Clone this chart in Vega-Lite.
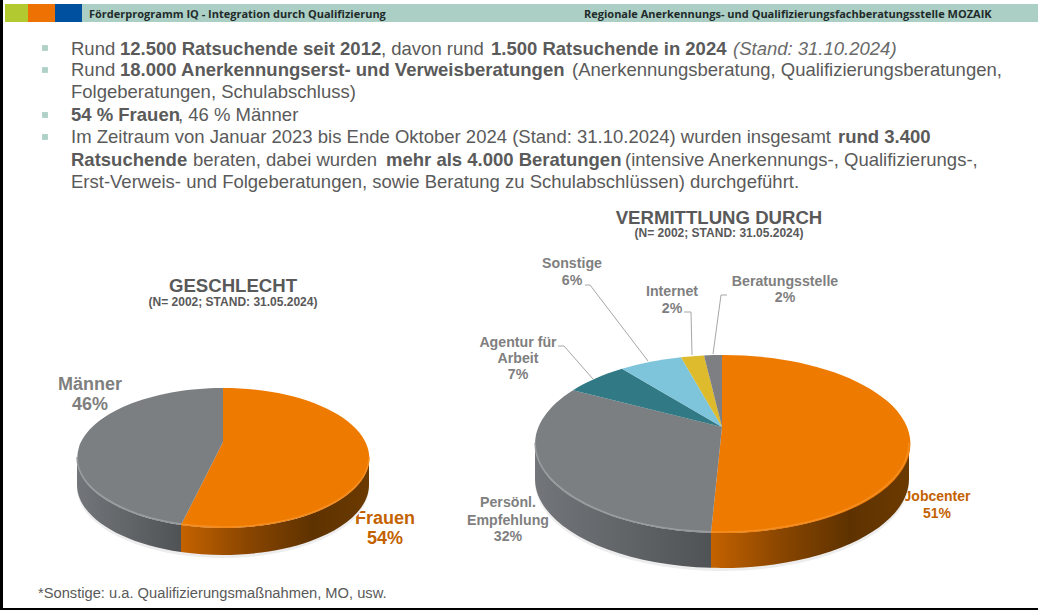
{
"$schema":"https://vega.github.io/schema/vega-lite/v6.json",
"width":1038,"height":610,"padding":0,"autosize":{"type":"none"},
"background":"#ffffff",
"config":{"view":{"stroke":null}},
"datasets":{
"flaechen":[
{"teil":"Rahmen links","col":0,"col2":1,"row":0,"row2":47},
{"teil":"Rahmen unten","col":0,"col2":44,"row":46,"row2":47},
{"teil":"Lime","col":2,"col2":3,"row":1,"row2":3},
{"teil":"Orange","col":3,"col2":6,"row":1,"row2":3},
{"teil":"Blau","col":6,"col2":8,"row":1,"row2":3},
{"teil":"Band","col":8,"col2":44,"row":1,"row2":3}
],
"bullets":[{"col":5,"row":4},{"col":5,"row":6},{"col":5,"row":9},{"col":5,"row":11}],
"kopf":[
{"col":9,"row":2,"t":"Förderprogramm IQ - Integration durch Qualifizierung"},
{"col":25,"row":2,"t":"Regionale Anerkennungs- und Qualifizierungsfachberatungsstelle MOZAIK"}
],
"regular":[
{"col":7,"row":5,"t":"Rund"},
{"col":16,"row":5,"t":", davon rund"},
{"col":7,"row":7,"t":"Rund"},
{"col":24,"row":7,"t":"(Anerkennungsberatung, Qualifizierungsberatungen,"},
{"col":7,"row":8,"t":"Folgeberatungen, Schulabschluss)"},
{"col":12,"row":10,"t":", 46 % Männer"},
{"col":7,"row":12,"t":"Im Zeitraum von Januar 2023 bis Ende Oktober 2024 (Stand: 31.10.2024) wurden insgesamt"},
{"col":13,"row":13,"t":"beraten, dabei wurden"},
{"col":29,"row":13,"t":"(intensive Anerkennungs-, Qualifizierungs-,"},
{"col":7,"row":14,"t":"Erst-Verweis- und Folgeberatungen, sowie Beratung zu Schulabschlüssen) durchgeführt."}
],
"fett":[
{"col":11,"row":5,"t":"12.500 Ratsuchende seit 2012"},
{"col":19,"row":5,"t":"1.500 Ratsuchende in 2024"},
{"col":11,"row":7,"t":"18.000 Anerkennungserst- und Verweisberatungen"},
{"col":7,"row":10,"t":"54 % Frauen"},
{"col":42,"row":12,"t":"rund 3.400"},
{"col":7,"row":13,"t":"Ratsuchende"},
{"col":18,"row":13,"t":"mehr als 4.000 Beratungen"}
],
"kursiv":[{"col":40,"row":5,"t":"(Stand: 31.10.2024)"}],
"fuss":[{"col":4,"row":45,"t":"*Sonstige: u.a. Qualifizierungsmaßnahmen, MO, usw."}],
"titel":[{"col":15,"row":20,"t":"GESCHLECHT"},{"col":36,"row":15,"t":"VERMITTLUNG DURCH"}],
"unter":[{"col":15,"row":24,"t":"(N= 2002; STAND: 31.05.2024)"},{"col":36,"row":16,"t":"(N= 2002; STAND: 31.05.2024)"}],
"labelGrau":[
{"col":24,"row":17,"t":"Sonstige"},{"col":24,"row":18,"t":"6%"},
{"col":31,"row":22,"t":"Internet"},{"col":31,"row":26,"t":"2%"},
{"col":21,"row":28,"t":"Agentur für"},{"col":21,"row":32,"t":"Arbeit"},{"col":21,"row":33,"t":"7%"},
{"col":41,"row":19,"t":"Beratungsstelle"},{"col":41,"row":23,"t":"2%"},
{"col":20,"row":39,"t":"Persönl."},{"col":20,"row":42,"t":"Empfehlung"},{"col":20,"row":43,"t":"32%"}
],
"labelOrange":[{"col":43,"row":38,"t":"Jobcenter"},{"col":43,"row":40,"t":"51%"}],
"grossGrau":[{"col":10,"row":34,"t":"Männer"},{"col":10,"row":35,"t":"46%"}],
"grossOrange":[{"col":17,"row":41,"t":"Frauen"},{"col":17,"row":44,"t":"54%"}],
"leader":[
{"col":26,"row":18,"col2":27,"row2":18},{"col":27,"row":18,"col2":30,"row2":31},
{"col":32,"row":25,"col2":33,"row2":25},{"col":33,"row":25,"col2":34,"row2":30},
{"col":22,"row":27,"col2":23,"row2":27},{"col":23,"row":27,"col2":28,"row2":33},
{"col":37,"row":21,"col2":39,"row2":21},{"col":35,"row":29,"col2":37,"row2":21}
],
"schatten":[{"col":14,"row":37,"s":"links"},{"col":38,"row":36,"s":"rechts"}],
"seiteGrau":[{"col":14,"row":37,"s":"Männer"},{"col":38,"row":36,"s":"Persönl. Empfehlung"}],
"seiteOrange":[{"col":14,"row":37,"s":"Frauen"},{"col":38,"row":36,"s":"Jobcenter"}],
"stuecke":[
{"col":14,"row":37,"s":"Frauen","value":54},
{"col":14,"row":37,"s":"Männer","value":46},
{"col":38,"row":36,"s":"Jobcenter","value":51},
{"col":38,"row":36,"s":"Persönl. Empfehlung","value":32},
{"col":38,"row":36,"s":"Agentur für Arbeit","value":7},
{"col":38,"row":36,"s":"Sonstige","value":6},
{"col":38,"row":36,"s":"Internet","value":2},
{"col":38,"row":36,"s":"Beratungsstelle","value":2}
],
"kanteGrau":[{"col":14,"row":37,"s":"Männer"},{"col":38,"row":36,"s":"Persönl. Empfehlung"}],
"kanteOrange":[{"col":14,"row":37,"s":"Frauen"},{"col":38,"row":36,"s":"Jobcenter"}]
},
"encoding":{
"x":{"field":"col","type":"quantitative","axis":null,"scale":{"domain":[0,1,2,3,4,5,6,7,8,9,10,11,12,13,14,15,16,17,18,19,20,21,22,23,24,25,26,27,28,29,30,31,32,33,34,35,36,37,38,39,40,41,42,43,44],"range":[0,3,5,28,38,45,55,71,82,89,90,120,178,193,223,233,381,385,386,491,508,518,558,564,572,584,585,590,593,625,648,672,684,691,692,713,719,721,722,727,733,785,838,937,1038]}},
"y":{"field":"row","type":"quantitative","axis":null,"scale":{"domain":[0,1,2,3,4,5,6,7,8,9,10,11,12,13,14,15,16,17,18,19,20,21,22,23,24,25,26,27,28,29,30,31,32,33,34,35,36,37,38,39,40,41,42,43,44,45,46,47],"range":[0,4,18,22,48,55,70,76,98,115,121,137,143,166,188,224,237,268,285,286,292,295,296,302,306,312,313,346,347,354,355,361,363,379,390,410,444,458,501,507,518,524,525,541,544,598,608,610]}}
},
"layer":[
{"data":{"name":"flaechen"},"mark":{"type":"rect"},"encoding":{"x2":{"field":"col2"},"y2":{"field":"row2"},"color":{"field":"teil","type":"nominal","legend":null,"scale":{"domain":["Rahmen links","Rahmen unten","Lime","Orange","Blau","Band"],"range":["#000000","#000000","#B2C92F","#EE7203","#0050A0","#ABCFC5"]}}}},
{"data":{"name":"bullets"},"mark":{"type":"point","shape":"square","filled":true,"opacity":1,"size":34,"color":"#AFD0C7"}},
{"data":{"name":"kopf"},"mark":{"type":"text","align":"left","baseline":"alphabetic","font":"Open Sans","fontWeight":"bold","fontSize":11,"color":"#1F2A2A"},"encoding":{"text":{"field":"t"}}},
{"data":{"name":"regular"},"mark":{"type":"text","align":"left","baseline":"alphabetic","font":"Liberation Sans","fontSize":18.5,"color":"#5A5A5A"},"encoding":{"text":{"field":"t"}}},
{"data":{"name":"fett"},"mark":{"type":"text","align":"left","baseline":"alphabetic","font":"Liberation Sans","fontWeight":"bold","fontSize":18.5,"color":"#5A5A5A"},"encoding":{"text":{"field":"t"}}},
{"data":{"name":"kursiv"},"mark":{"type":"text","align":"left","baseline":"alphabetic","font":"Liberation Sans","fontStyle":"italic","fontSize":18.5,"color":"#6A6A6A"},"encoding":{"text":{"field":"t"}}},
{"data":{"name":"fuss"},"mark":{"type":"text","align":"left","baseline":"alphabetic","font":"Liberation Sans","fontSize":14.7,"color":"#595959"},"encoding":{"text":{"field":"t"}}},
{"data":{"name":"titel"},"mark":{"type":"text","align":"center","baseline":"alphabetic","font":"Liberation Sans","fontWeight":"bold","fontSize":18.6,"color":"#595959"},"encoding":{"text":{"field":"t"}}},
{"data":{"name":"unter"},"mark":{"type":"text","align":"center","baseline":"alphabetic","font":"Liberation Sans","fontWeight":"bold","fontSize":12,"color":"#595959"},"encoding":{"text":{"field":"t"}}},
{"data":{"name":"labelGrau"},"mark":{"type":"text","align":"center","baseline":"alphabetic","font":"Liberation Sans","fontWeight":"bold","fontSize":14.2,"color":"#7F7F7F"},"encoding":{"text":{"field":"t"}}},
{"data":{"name":"labelOrange"},"mark":{"type":"text","align":"center","baseline":"alphabetic","font":"Liberation Sans","fontWeight":"bold","fontSize":14,"color":"#C46200"},"encoding":{"text":{"field":"t"}}},
{"data":{"name":"grossGrau"},"mark":{"type":"text","align":"center","baseline":"alphabetic","font":"Liberation Sans","fontWeight":"bold","fontSize":18,"color":"#7F7F7F"},"encoding":{"text":{"field":"t"}}},
{"data":{"name":"grossOrange"},"mark":{"type":"text","align":"center","baseline":"alphabetic","font":"Liberation Sans","fontWeight":"bold","fontSize":18,"color":"#C46200"},"encoding":{"text":{"field":"t"}}},
{"data":{"name":"leader"},"mark":{"type":"rule","color":"#A6A6A6","strokeWidth":1},"encoding":{"x2":{"field":"col2"},"y2":{"field":"row2"}}},
{"data":{"name":"schatten"},"mark":{"type":"point","filled":true,"opacity":1,"size":4,"color":"#EDEDED"},"encoding":{"shape":{"field":"s","type":"nominal","legend":null,"scale":{"domain":["links","rechts"],"range":["M-146,30 A146,70 0 1 0 146,30 A146,70 0 1 0 -146,30 Z","M-187,38 A187,89 0 1 0 187,38 A187,89 0 1 0 -187,38 Z"]}}}},
{"data":{"name":"seiteGrau"},"mark":{"type":"point","filled":true,"opacity":1,"size":4,"color":{"gradient":"linear","x1":0,"x2":1,"y1":0,"y2":0,"stops":[{"offset":0,"color":"#72767A"},{"offset":1,"color":"#505356"}]}},"encoding":{"shape":{"field":"s","type":"nominal","legend":null,"scale":{"domain":["Männer","Persönl. Empfehlung"],"range":["M-42,67 A146,70 0 0 1 -146,0 L-146,27 A146,70 0 0 0 -42,94 Z","M-11,88.8 A187,89 0 0 1 -187,0 L-187,35 A187,89 0 0 0 -11,123.8 Z"]}}}},
{"data":{"name":"seiteOrange"},"mark":{"type":"point","filled":true,"opacity":1,"size":4,"color":{"gradient":"linear","x1":0,"x2":1,"y1":0,"y2":0,"stops":[{"offset":0,"color":"#C46200"},{"offset":0.35,"color":"#8A4600"},{"offset":0.7,"color":"#5E3200"},{"offset":1,"color":"#6B3A00"}]}},"encoding":{"shape":{"field":"s","type":"nominal","legend":null,"scale":{"domain":["Frauen","Jobcenter"],"range":["M146,0 A146,70 0 0 1 -42,67 L-42,94 A146,70 0 0 0 146,27 Z","M187,0 A187,89 0 0 1 -11,88.8 L-11,123.8 A187,89 0 0 0 187,35 Z"]}}}},
{"data":{"name":"stuecke"},"mark":{"type":"point","filled":true,"opacity":1,"size":4},"encoding":{
"color":{"field":"s","type":"nominal","legend":null,"scale":{"domain":["Frauen","Männer","Jobcenter","Persönl. Empfehlung","Agentur für Arbeit","Sonstige","Internet","Beratungsstelle"],"range":["#EE7B00","#7C7F82","#EE7B00","#7C7F82","#317A85","#7EC5DC","#DDBB2C","#7D7F82"]}},
"shape":{"field":"s","type":"nominal","legend":null,"scale":{"domain":["Frauen","Männer","Jobcenter","Persönl. Empfehlung","Agentur für Arbeit","Sonstige","Internet","Beratungsstelle"],"range":[
"M0,-70 A146,70 0 1 1 -42,67 L0,-16 Z",
"M-42,67 A146,70 0 0 1 0,-70 L0,-16 Z",
"M0,-89 A187,89 0 1 1 -11,88.8 L0,-17 Z",
"M-11,88.8 A187,89 0 0 1 -149,-53.8 L0,-17 Z",
"M-149,-53.8 A187,89 0 0 1 -100,-75.2 L0,-17 Z",
"M-100,-75.2 A187,89 0 0 1 -41,-86.8 L0,-17 Z",
"M-41,-86.8 A187,89 0 0 1 -18,-88.6 L0,-17 Z",
"M-18,-88.6 A187,89 0 0 1 0,-89 L0,-17 Z"
]}}}},
{"data":{"name":"kanteGrau"},"mark":{"type":"point","filled":false,"opacity":1,"size":4,"color":"#9A9DA0","strokeWidth":1.5},"encoding":{"shape":{"field":"s","type":"nominal","legend":null,"scale":{"domain":["Männer","Persönl. Empfehlung"],"range":["M-42,66 A146,70 0 0 1 -146,-1","M-11,87.8 A187,89 0 0 1 -187,-1"]}}}},
{"data":{"name":"kanteOrange"},"mark":{"type":"point","filled":false,"opacity":1,"size":4,"color":"#F58E22","strokeWidth":1.5},"encoding":{"shape":{"field":"s","type":"nominal","legend":null,"scale":{"domain":["Frauen","Jobcenter"],"range":["M146,-1 A146,70 0 0 1 -42,66","M187,-1 A187,89 0 0 1 -11,87.8"]}}}}
],
"resolve":{"scale":{"color":"independent","shape":"independent"}}
}
